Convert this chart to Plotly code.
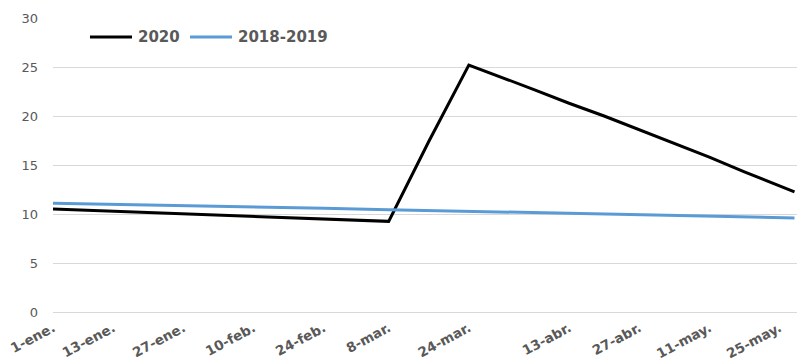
import plotly.graph_objects as go

# 2020 series
dates_2020 = ["2020-01-01", "2020-01-13", "2020-01-27", "2020-02-10", "2020-02-24",
              "2020-03-03", "2020-03-08", "2020-03-16", "2020-03-24", "2020-04-06",
              "2020-04-13", "2020-04-20", "2020-04-27", "2020-05-04", "2020-05-11",
              "2020-05-18", "2020-05-25", "2020-05-28"]
values_2020 = [10.5, 10.27, 10.02, 9.76, 9.5,
               9.33, 9.25, 17.4, 25.2, 22.7,
               21.3, 20.0, 18.6, 17.2, 15.8,
               14.3, 12.85, 12.25]

# 2018-2019 reference series
dates_ref = ["2020-01-01", "2020-01-13", "2020-01-27", "2020-02-10", "2020-02-24",
             "2020-03-08", "2020-03-24", "2020-04-13", "2020-04-27", "2020-05-11",
             "2020-05-25", "2020-05-28"]
values_ref = [11.1, 11.0, 10.88, 10.74, 10.58,
              10.44, 10.28, 10.1, 9.95, 9.8,
              9.65, 9.6]

# x-axis tick positions and labels
tick_dates = ["2020-01-01", "2020-01-13", "2020-01-27", "2020-02-10", "2020-02-24",
              "2020-03-08", "2020-03-24", "2020-04-13", "2020-04-27", "2020-05-11",
              "2020-05-25"]
tick_labels = ["1-ene.", "13-ene.", "27-ene.", "10-feb.", "24-feb.",
               "8-mar.", "24-mar.", "13-abr.", "27-abr.", "11-may.", "25-may."]

y_ticks = [0, 5, 10, 15, 20, 25, 30]

series_names = ["2020", "2018-2019"]
series_colors = ["#000000", "#5b9bd5"]

GRAY = "#595959"
GRID = "#d9d9d9"

fig = go.Figure()
fig.add_trace(go.Scatter(x=dates_2020, y=values_2020, mode="lines", name=series_names[0],
                         line=dict(color=series_colors[0], width=3), showlegend=False))
fig.add_trace(go.Scatter(x=dates_ref, y=values_ref, mode="lines", name=series_names[1],
                         line=dict(color=series_colors[1], width=3), showlegend=False))

# Legend drawn inside the plot: line sample followed by bold label
legend_y = 0.935
legend_items = [(0.0497, 0.1062, 0.1116), (0.1841, 0.2406, 0.2460)]
for (x0, x1, xt), name, color in zip(legend_items, series_names, series_colors):
    fig.add_shape(type="line", xref="paper", yref="paper", x0=x0, x1=x1,
                  y0=legend_y, y1=legend_y, line=dict(color=color, width=3))
    fig.add_annotation(xref="paper", yref="paper", x=xt, y=legend_y, text=name,
                       showarrow=False, xanchor="left", yanchor="middle",
                       font=dict(family="DejaVu Sans", size=15, color=GRAY, weight="bold"))

fig.update_layout(
    width=797, height=363,
    margin=dict(l=53, r=0, t=18, b=51),
    paper_bgcolor="white", plot_bgcolor="white",
    showlegend=False,
    xaxis=dict(type="date", range=["2020-01-01", "2020-05-28 12:00"],
               tickmode="array", tickvals=tick_dates, ticktext=tick_labels,
               tickangle=-28, showgrid=False, zeroline=False, showline=False,
               ticks="", ticklabelstandoff=5,
               tickfont=dict(family="DejaVu Sans", size=13.5, color=GRAY, weight="bold")),
    yaxis=dict(range=[0, 30], tickmode="array", tickvals=y_ticks,
               showgrid=True, gridcolor=GRID, gridwidth=1,
               zeroline=True, zerolinecolor=GRID, zerolinewidth=1,
               showline=False, ticks="", ticklabelstandoff=14,
               tickfont=dict(family="DejaVu Sans", size=13, color=GRAY)),
)

fig.write_html("out.html")
